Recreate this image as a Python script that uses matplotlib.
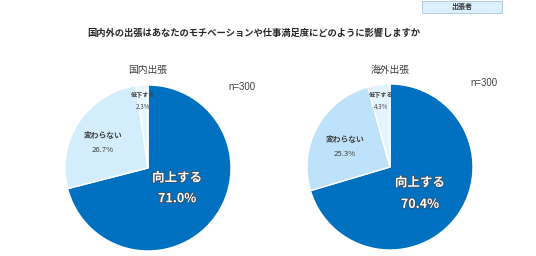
import matplotlib.pyplot as plt
import matplotlib.patheffects as pe
from matplotlib.patches import Rectangle

plt.rcParams['font.family'] = ['Noto Sans CJK JP', 'DejaVu Sans']

title = '国内外の出張はあなたのモチベーションや仕事満足度にどのように影響しますか'
badge = '出張者'
categories = ['向上する', '変わらない', '低下する']
groups = ['国内出張', '海外出張']
values = {
    '国内出張': [71.0, 26.7, 2.3],
    '海外出張': [70.4, 25.3, 4.3],
}
n_label = 'n=300'

colors = {
    '国内出張': ['#0070C0', '#D4EDFC', '#E8F6FE'],
    '海外出張': ['#0070C0', '#BDE2FA', '#E4F4FE'],
}

# label offsets (name, value) in pie radius units, per group
label_pos = {
    '国内出張': [((0.35, -0.12), (0.35, -0.37)),
                 ((-0.54, 0.39), (-0.54, 0.22)),
                 ((-0.06, 0.88), (-0.06, 0.73))],
    '海外出張': [((0.36, -0.19), (0.36, -0.45)),
                 ((-0.54, 0.33), (-0.54, 0.16)),
                 ((-0.11, 0.87), (-0.11, 0.72))],
}

W, H = 536, 256
fig = plt.figure(figsize=(W / 100, H / 100), dpi=100)

centers = [(148, 168), (390, 167)]
r = 83
outline = [pe.withStroke(linewidth=1.2, foreground='#3d4f60')]

for g, (cx, cy) in zip(groups, centers):
    ax = fig.add_axes([(cx - r) / W, (H - cy - r) / H, 2 * r / W, 2 * r / H])
    ax.pie(values[g], colors=colors[g], startangle=90, counterclock=False,
           radius=1, wedgeprops=dict(edgecolor='white', linewidth=1.0))
    ax.set_xlim(-1, 1)
    ax.set_ylim(-1, 1)
    ax.set_aspect('equal')
    ax.axis('off')
    for i, (cat, v) in enumerate(zip(categories, values[g])):
        (nx, ny), (px, py) = label_pos[g][i]
        if i == 0:
            ax.text(nx, ny, cat, ha='center', va='center', fontsize=9,
                    color='white', fontweight='bold', path_effects=outline)
            ax.text(px, py, f'{v:.1f}%', ha='center', va='center', fontsize=9,
                    color='white', fontweight='bold', path_effects=outline)
        else:
            fs = 5.6 if i == 1 else 4.4
            ax.text(nx, ny, cat, ha='center', va='center', fontsize=fs,
                    color='#404040', fontweight='bold')
            ax.text(px, py, f'{v:.1f}%', ha='center', va='center', fontsize=fs,
                    color='#404040')
    fig.text(cx / W, 1 - 70 / H, g, ha='center', va='center', fontsize=7,
             color='#404040')

fig.text(242 / W, 1 - 87 / H, n_label, ha='center', va='center', fontsize=6.9,
         color='#404040', family=['Liberation Sans', 'DejaVu Sans'])
fig.text(484 / W, 1 - 83 / H, n_label, ha='center', va='center', fontsize=6.9,
         color='#404040', family=['Liberation Sans', 'DejaVu Sans'])

fig.text(254 / W, 1 - 33 / H, title, ha='center', va='center', fontsize=6.7,
         color='#262626', fontweight='bold')

fig.patches.append(Rectangle((422 / W, 1 - 13 / H), 80 / W, 12.5 / H,
                             transform=fig.transFigure, facecolor='#DCEFFC',
                             edgecolor='#A9C4DA', linewidth=0.6))
fig.text(462 / W, 1 - 7 / H, badge, ha='center', va='center', fontsize=5,
         color='#333333', fontweight='bold')

fig.savefig('out.png', dpi=100)
